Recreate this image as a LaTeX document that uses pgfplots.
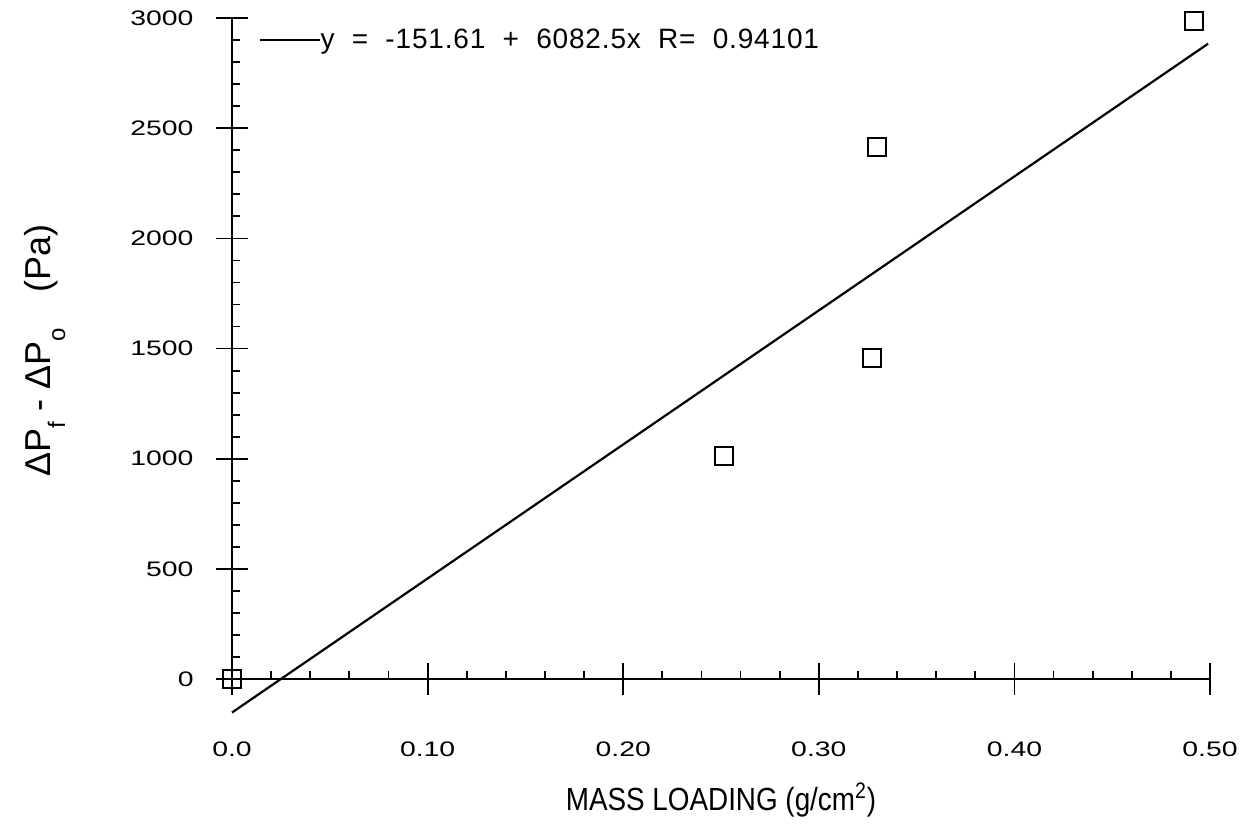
\documentclass[border=0pt]{standalone}
\usepackage{fontspec}
\setmainfont{Liberation Sans}
\newfontfamily\narrowsans[FakeStretch=0.87]{Liberation Sans}
\newfontfamily\widesans[FakeStretch=1.35]{Liberation Sans}
\usepackage{pgfplots}
\pgfplotsset{compat=1.18}

\begin{document}
\begin{tikzpicture}
  \begin{axis}[
    x=978pt, y=0.11017pt,
    xmin=-0.006, xmax=0.5,
    ymin=-50, ymax=3000,
    axis lines=middle,
    axis line style={-, line width=1.1pt},
    clip=false,
    hide obscured x ticks=false,
    hide obscured y ticks=false,
    xtick={0,0.1,0.2,0.3,0.4,0.5},
    xticklabels={0.0,0.10,0.20,0.30,0.40,0.50},
    ytick={0,500,1000,1500,2000,2500,3000},
    yticklabels={0,500,1000,1500,2000,2500,3000},
    minor x tick num=4,
    minor y tick num=4,
    tick align=center,
    major tick length=16pt,
    minor tick length=4pt,
    tick style={black, line width=0.9pt},
    minor x tick style={yshift=2pt},
    minor y tick style={xshift=2pt},
    ticklabel style={font=\widesans\fontsize{10.5}{12}\selectfont},
    xticklabel style={yshift=-20pt},
    yticklabel style={xshift=-7.7pt},
    every axis x label/.style={at={(axis cs:0.25,-549)}, anchor=center,
      font=\narrowsans\fontsize{16}{18}\selectfont},
    every axis y label/.style={at={(axis cs:-0.0956,1493)}, anchor=center, rotate=90,
      font=\fontsize{18}{20}\selectfont},
    xlabel={MASS LOADING (g/cm\textsuperscript{2})},
    ylabel={ΔP\raisebox{-0.75ex}{\fontsize{12}{14}\selectfont f} - ΔP\raisebox{-0.75ex}{\fontsize{12}{14}\selectfont o}\quad (Pa)},
    legend style={at={(axis cs:0.0133,2900)}, anchor=west, draw=none, fill=none,
      inner sep=0pt, font=\fontsize{14}{16}\selectfont\addfontfeature{LetterSpace=3},
      nodes={inner sep=0pt}},
    legend image code/.code={\draw[line width=1.1pt] (0pt,0pt) -- (30pt,0pt);},
  ]
  % ajuste lineal
  \addplot[black, line width=1.1pt] coordinates {(0,-151.61) (0.499,2883.6)};
  \addlegendentry{y\ \ =\ \ -151.61\ \ +\ \ 6082.5x\ \ R=\ \ 0.94101}

  % datos medidos
  \addplot[only marks, mark=square, mark size=4.4pt, mark options={black, line width=1pt}]
    coordinates {
      (0,0)(0.2515,1012)(0.3272,1457)(0.3298,2415)(0.4918,2986)
    };

  \coordinate (bbA) at (axis cs:-0.1186,3082);
  \coordinate (bbB) at (axis cs:0.5194,-667);
  \end{axis}
  \path (bbA) rectangle (bbB);
\end{tikzpicture}
\end{document}
